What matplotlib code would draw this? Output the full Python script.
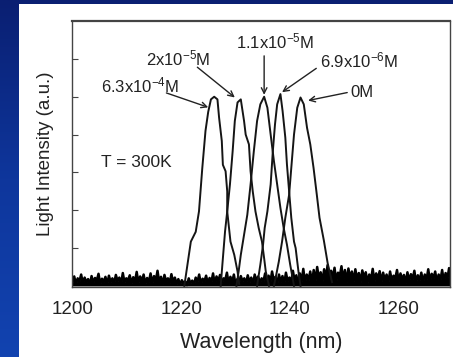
import numpy as np
import matplotlib
matplotlib.use("Agg")
import matplotlib.pyplot as plt
from matplotlib.patches import Rectangle

plt.rcParams['font.family'] = ['Liberation Sans', 'DejaVu Sans']
plt.rcParams['mathtext.fontset'] = 'custom'
plt.rcParams['mathtext.rm'] = 'Liberation Sans'
plt.rcParams['mathtext.default'] = 'regular'

# emission peaks, one per concentration (wavelength nm, intensity a.u.)
wl_63e4 = [1220.6, 1221.8, 1222.7, 1223.3, 1223.9, 1224.5, 1225.0, 1225.5, 1226.1, 1226.7,
           1227.0, 1227.5, 1227.7, 1228.2, 1228.5, 1228.5, 1229.1, 1229.8, 1230.4, 1230.7]
in_63e4 = [0.0, 1.17, 1.43, 1.97, 3.1, 4.1, 4.6, 4.93, 5.0, 4.93,
           4.45, 3.83, 3.2, 3.03, 2.5, 1.97, 1.17, 0.82, 0.38, 0.05]

wl_2e5 = [1227.3, 1227.6, 1228.1, 1228.5, 1229.0, 1229.5, 1229.9, 1230.4, 1231.0, 1231.6,
          1231.9, 1232.5, 1232.8, 1233.2, 1233.7, 1234.3, 1234.9, 1235.3, 1235.6, 1236.2]
in_2e5 = [0.0, 0.55, 1.44, 1.97, 2.68, 3.56, 4.36, 4.85, 4.93, 4.36,
          4.0, 3.74, 3.03, 2.5, 1.97, 1.53, 1.17, 0.73, 0.38, 0.0]

wl_11e5 = [1230.2, 1230.6, 1231.0, 1231.6, 1232.2, 1232.8, 1233.4, 1234.0, 1234.6, 1235.3,
           1235.9, 1236.5, 1237.1, 1237.7, 1238.3, 1238.9, 1239.5, 1240.1, 1240.8]
in_11e5 = [0.0, 0.38, 0.82, 1.35, 1.88, 2.68, 3.56, 4.36, 4.8, 5.0,
           4.71, 4.0, 3.3, 2.68, 2.06, 1.53, 1.09, 0.56, 0.0]

wl_69e6 = [1234.0, 1234.6, 1235.1, 1235.4, 1235.9, 1236.5, 1236.9, 1237.3, 1237.7, 1238.3,
           1238.7, 1239.2, 1239.5, 1239.9, 1240.3, 1240.8, 1241.1, 1241.4, 1241.7, 1242.0]
in_69e6 = [0.0, 0.56, 1.09, 1.53, 1.97, 2.68, 3.56, 4.27, 4.8, 5.07,
           4.62, 3.92, 3.21, 2.5, 1.8, 1.17, 1.0, 0.64, 0.29, 0.0]

wl_0 = [1237.1, 1237.4, 1238.0, 1238.6, 1239.2, 1239.9, 1240.3, 1240.8, 1241.4, 1242.0,
        1242.6, 1243.2, 1243.8, 1244.4, 1245.0, 1245.5, 1246.3, 1247.0, 1247.8]
in_0 = [0.0, 0.2, 0.64, 1.17, 1.8, 2.41, 3.12, 4.0, 4.71, 4.98,
        4.8, 4.18, 3.74, 3.12, 2.41, 1.8, 1.2, 0.6, 0.1]

# baseline noise read across 1200-1270 nm
noise = [0.08, 0.25, 0.05, 0.2, 0.12, 0.3, 0.06, 0.22, 0.1, 0.18, 0.03, 0.26, 0.09, 0.21, 0.14, 0.32, 0.05, 0.19, 0.11, 0.24,
         0.04, 0.27, 0.1, 0.2, 0.07, 0.29, 0.13, 0.22, 0.05, 0.34, 0.09, 0.2, 0.15, 0.28, 0.06, 0.23, 0.11, 0.37, 0.08, 0.25,
         0.12, 0.3, 0.05, 0.21, 0.1, 0.33, 0.07, 0.26, 0.14, 0.4, 0.09, 0.24, 0.04, 0.29, 0.12, 0.2, 0.06, 0.31, 0.1, 0.22,
         0.05, 0.18, 0.03, 0.15, 0.08, 0.12, 0.02, 0.2, 0.06, 0.14, 0.04, 0.22, 0.1, 0.3, 0.05, 0.19, 0.12, 0.27, 0.06, 0.21,
         0.09, 0.33, 0.04, 0.25, 0.12, 0.29, 0.07, 0.2, 0.15, 0.35, 0.05, 0.24, 0.1, 0.3, 0.03, 0.18, 0.08, 0.26, 0.12, 0.2,
         0.06, 0.28, 0.1, 0.22, 0.04, 0.3, 0.13, 0.25, 0.07, 0.2, 0.11, 0.33, 0.05, 0.27, 0.09, 0.38, 0.14, 0.24, 0.06, 0.3,
         0.1, 0.26, 0.05, 0.35, 0.12, 0.22, 0.08, 0.4, 0.14, 0.28, 0.06, 0.33, 0.11, 0.45, 0.09, 0.3, 0.15, 0.38, 0.07, 0.42,
         0.12, 0.5, 0.18, 0.36, 0.1, 0.44, 0.2, 0.55, 0.14, 0.4, 0.22, 0.48, 0.12, 0.35, 0.25, 0.52, 0.16, 0.42, 0.1, 0.46,
         0.2, 0.38, 0.12, 0.44, 0.18, 0.34, 0.1, 0.41, 0.22, 0.36, 0.08, 0.3, 0.16, 0.45, 0.12, 0.33, 0.19, 0.39, 0.1, 0.35,
         0.15, 0.3, 0.08, 0.38, 0.14, 0.27, 0.2, 0.42, 0.1, 0.33, 0.17, 0.29, 0.07, 0.36, 0.13, 0.31, 0.18, 0.4, 0.09, 0.28,
         0.14, 0.35, 0.1, 0.3, 0.16, 0.44, 0.12, 0.32, 0.2, 0.38, 0.09, 0.3, 0.15, 0.42, 0.11, 0.34, 0.18, 0.47, 0.13, 0.36]
noise_wl = np.linspace(1200, 1270, len(noise))

# labels: text, text position, arrow tail, arrow tip
labels = ["6.3x10$^{-4}$M", "2x10$^{-5}$M", "1.1x10$^{-5}$M", "6.9x10$^{-6}$M", "0M"]
label_xy = [(1212.4, 5.3), (1219.4, 6.0), (1237.3, 6.45), (1252.8, 5.95), (1253.4, 5.12)]
arrow_tail = [(1217.3, 5.1), (1223.0, 5.78), (1235.3, 6.08), (1244.9, 5.75), (1250.6, 5.11)]
arrow_tip = [(1225.0, 4.72), (1229.9, 4.98), (1235.3, 5.05), (1238.6, 5.12), (1243.4, 4.9)]

fig = plt.figure(figsize=(4.53, 3.57), dpi=100)

# blue slide background + white panel
bg = fig.add_axes([0, 0, 1, 1], zorder=-10)
grad = np.linspace(0, 1, 256).reshape(-1, 1)
cmap = matplotlib.colors.LinearSegmentedColormap.from_list('bg', ['#0a1f72', '#0e369c', '#1243b0'])
bg.imshow(grad, aspect='auto', cmap=cmap, extent=[0, 1, 0, 1], origin='upper')
bg.set_xlim(0, 1)
bg.set_ylim(0, 1)
bg.axis('off')
fig.patches.append(Rectangle((19 / 453, 0), 1, (357 - 4) / 357, transform=fig.transFigure,
                             facecolor='white', edgecolor='none', zorder=-5))

ax = fig.add_axes([0.160, 0.196, 0.833, 0.745])
ax.set_facecolor('white')

ax.fill_between(noise_wl, 0, noise, color='black', lw=0)
ax.plot(noise_wl, noise, color='black', lw=1.8)
for wl, inten in [(wl_63e4, in_63e4), (wl_2e5, in_2e5), (wl_11e5, in_11e5), (wl_69e6, in_69e6), (wl_0, in_0)]:
    ax.plot(wl, inten, color='#151515', lw=1.4)

for lab, (tx, ty), tail, tip in zip(labels, label_xy, arrow_tail, arrow_tip):
    ax.text(tx, ty, lab, fontsize=12, ha='center', va='center', color='#222222')
    ax.annotate('', xy=tip, xytext=tail,
                arrowprops=dict(arrowstyle='->', lw=1.0, color='#222222', shrinkA=0, shrinkB=0))

ax.text(1205.2, 3.25, "T = 300K", fontsize=12.5, ha='left', va='center', color='#222222')

ax.set_xlim(1200, 1269.5)
ax.set_ylim(-0.03, 7)
ax.set_xticks([1200, 1220, 1240, 1260])
ax.set_yticks([1, 2, 3, 4, 5, 6])
ax.set_yticklabels([])
ax.tick_params(axis='y', direction='in', length=4, width=0.8, color='#444444')
ax.tick_params(axis='x', direction='in', length=0, pad=10, labelsize=13.5, labelcolor='#222222')
for s in ax.spines.values():
    s.set_color('#444444')
    s.set_linewidth(1.0)
ax.spines['top'].set_linewidth(1.6)

ax.set_xlabel("Wavelength (nm)", fontsize=15.5, color='#222222', labelpad=10)
ax.set_ylabel("Light Intensity (a.u.)", fontsize=13.5, color='#222222', labelpad=10)

fig.savefig("out.png", dpi=100)
